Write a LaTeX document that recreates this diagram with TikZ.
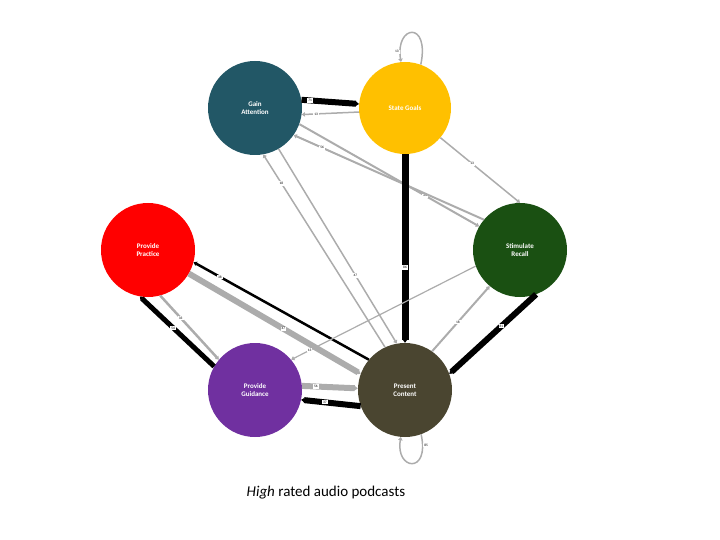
\documentclass[tikz,border=0pt]{standalone}
\usepackage{fontspec}
\setmainfont{Carlito}
\usetikzlibrary{arrows.meta}
\begin{document}
\begin{tikzpicture}[x=1pt,y=-1pt,
  st/.style={circle,minimum size=94pt,inner sep=0pt,text=white,font=\bfseries\fontsize{7}{8}\selectfont,align=center},
  g/.style={draw=gray!65,-{Triangle[length=3.2pt,width=4.4pt]},line width=#1},
  b/.style={draw=black,-{Triangle[length=3.2pt,width=4.4pt]},line width=#1},
  lb/.style={font=\fontsize{3.5}{4}\selectfont,fill=white,inner sep=1pt}]
\useasboundingbox (0,0) rectangle (720,540);
\node[st,fill={rgb,255:red,34;green,87;blue,102}] (ga) at (255,108) {Gain\\Attention};
\node[st,fill={rgb,255:red,255;green,192;blue,0},minimum size=92pt] (sg) at (405,108) {State Goals};
\node[st,fill=red] (pp) at (148,250) {Provide\\Practice};
\node[st,fill={rgb,255:red,26;green,80;blue,18}] (sr) at (520,250) {Stimulate\\Recall};
\node[st,fill={rgb,255:red,112;green,48;blue,160}] (pg) at (255,390) {Provide\\Guidance};
\node[st,fill={rgb,255:red,74;green,69;blue,48}] (pc) at (405,390) {Present\\Content};
% self loops
\draw[g=1.5pt] (sg.70) .. controls (430,20) and (395,25) .. node[lb,pos=0.9,left]{13} (sg.95);
\draw[g=1.5pt] (pc.-70) .. controls (430,475) and (395,470) .. node[lb,pos=0.1,right]{85} (pc.-95);
% GA <-> SG
\draw[b=6pt] (ga.10) -- node[lb,pos=0.15]{71} (sg.175);
\draw[g=1.5pt] (sg.185) -- node[lb,pos=0.75]{13} (ga.-8);
% GA <-> SR
\draw[g=2pt] (ga.-20) -- node[lb,pos=0.7]{24} (sr.150);
\draw[g=2pt] (sr.140) -- node[lb,pos=0.85]{56} (ga.-35);
% SG -> SR
\draw[g=1.5pt] (sg.-40) -- node[lb,pos=0.4]{13} (sr.90);
% SG -> PC
\draw[b=7pt] (sg.-90) -- node[lb,pos=0.6]{86} (pc.90);
% GA <-> PC
\draw[g=1.5pt] (pc.115) -- node[lb,pos=0.85]{18} (ga.-80);
\draw[g=1.5pt] (ga.-60) -- node[lb,pos=0.65]{47} (pc.100);
% PP <-> PC
\draw[g=6pt] (pp.-30) -- node[lb,pos=0.55]{47} (pc.160);
\draw[b=2.5pt] (pc.140) -- node[lb,pos=0.85]{38} (pp.-15);
% PP <-> PG
\draw[g=2.5pt] (pp.-75) -- node[lb,pos=0.35]{33} (pg.140);
\draw[b=5pt] (pg.150) -- node[lb,pos=0.55]{56} (pp.-100);
% SR -> PG
\draw[g=1.2pt] (sr.-160) -- node[lb,pos=0.9]{13} (pg.40);
% PG <-> PC
\draw[g=6pt] (pg.5) -- node[lb,pos=0.25]{56} (pc.178);
\draw[b=6pt] (pc.-160) -- node[lb,pos=0.6]{37} (pg.-12);
% SR <-> PC
\draw[g=2pt] (pc.55) -- node[lb,pos=0.45]{18} (sr.-130);
\draw[b=6pt] (sr.-70) -- node[lb,pos=0.4]{81} (pc.20);
\node[font=\fontsize{15}{18}\selectfont] (t) at (326,493) {\textit{High} rated audio podcasts};
\end{tikzpicture}
\end{document}
